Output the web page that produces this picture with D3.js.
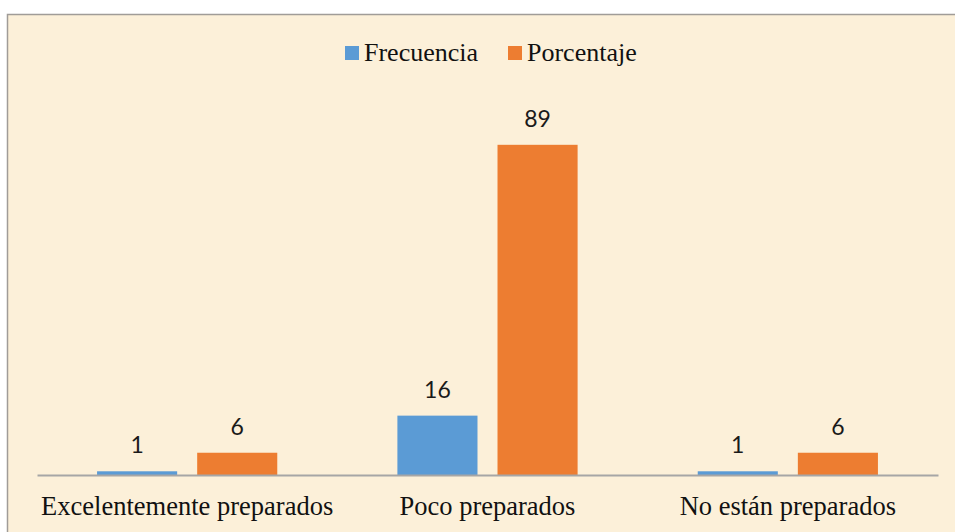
<!DOCTYPE html>
<html>
<head>
<meta charset="utf-8">
<script src="https://cdn.jsdelivr.net/npm/d3@7"></script>
<style>
  html, body { margin: 0; padding: 0; background: #ffffff; }
  svg { display: block; }
</style>
</head>
<body>
<svg id="chart" width="955" height="532"></svg>
<script>
const categories = ["Excelentemente preparados", "Poco preparados", "No están preparados"];
const seriesNames = ["Frecuencia", "Porcentaje"];
const frecuencia = [1, 16, 1];
const porcentaje = [6, 89, 6];
const seriesColors = ["#5B9BD5", "#ED7D31"];

const svg = d3.select("#chart");

// chart area background + border
svg.append("rect").attr("x", 7.5).attr("y", 14.5).attr("width", 970).attr("height", 540)
  .attr("fill", "#fcf0d9").attr("stroke", "#a09c98").attr("stroke-width", 1.5);

const x0 = d3.scaleBand().domain(categories).range([37, 938]).padding(0);
const bw = x0.bandwidth();
const x1 = d3.scaleBand().domain(seriesNames).range([bw * 0.2, bw * 0.8]).paddingInner(0.2).paddingOuter(0);
const y = d3.scaleLinear().domain([0, 100]).range([475, 104]);

const data = categories.map((c, i) => ({ cat: c, values: [frecuencia[i], porcentaje[i]] }));

const groups = svg.append("g").selectAll("g").data(data).join("g")
  .attr("transform", d => `translate(${x0(d.cat)},0)`);

groups.selectAll("rect").data(d => d.values.map((v, j) => ({ s: seriesNames[j], v, j })))
  .join("rect")
  .attr("x", d => x1(d.s))
  .attr("y", d => y(d.v))
  .attr("width", x1.bandwidth())
  .attr("height", d => y(0) - y(d.v))
  .attr("fill", d => seriesColors[d.j]);

groups.selectAll("text").data(d => d.values.map((v, j) => ({ s: seriesNames[j], v, j })))
  .join("text")
  .attr("x", d => x1(d.s) + x1.bandwidth() / 2)
  .attr("y", d => y(d.v) - 18)
  .attr("text-anchor", "middle")
  .attr("font-family", "Lato, 'Open Sans', sans-serif")
  .attr("font-size", 23)
  .attr("fill", "#1a1a1a")
  .text(d => d.v);

// x axis
const xAxis = d3.axisBottom(x0).tickSize(0).tickPadding(0);
const ax = svg.append("g").attr("transform", `translate(0,${y(0)})`).call(xAxis);
ax.select(".domain").attr("stroke", "#a6a6a6").attr("stroke-width", 2);
ax.selectAll(".tick text")
  .attr("y", 40)
  .attr("dy", 0)
  .attr("font-family", "'Liberation Serif', 'Times New Roman', serif")
  .attr("font-size", 26.5)
  .attr("fill", "#111");

// legend
const legend = svg.append("g");
const legendX = [345, 508];
seriesNames.forEach((s, i) => {
  legend.append("rect").attr("x", legendX[i]).attr("y", 46).attr("width", 14).attr("height", 14)
    .attr("fill", seriesColors[i]);
  legend.append("text").attr("x", legendX[i] + 19).attr("y", 61)
    .attr("font-family", "'Liberation Serif', 'Times New Roman', serif")
    .attr("font-size", 26).attr("fill", "#111").text(s);
});
</script>
</body>
</html>
